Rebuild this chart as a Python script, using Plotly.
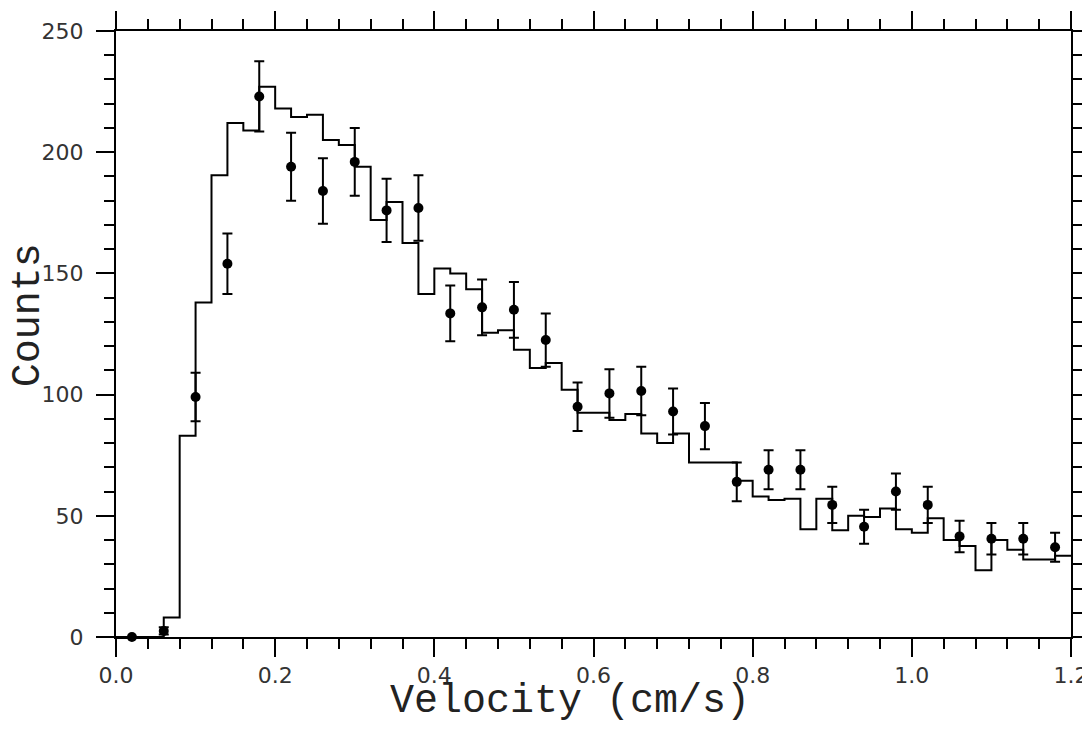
import plotly.graph_objects as go

# Histogram (model) : bin left edges and counts, bin width 0.02
bin_edges = [round(0.02 * i, 2) for i in range(61)]
hist_counts = [0, 0, 0, 8, 83, 138, 190.5, 212, 209, 227,
               218, 214.5, 215.5, 205, 203, 194, 172, 179.5, 162.5, 141.5,
               152, 150, 143.5, 125.5, 126.5, 118.5, 111, 113, 102, 92.5,
               92.5, 89.5, 92, 84, 80, 84, 72, 72, 72, 64.5,
               58, 56.5, 57, 44.5, 57, 44, 50, 49.5, 53, 44.5,
               43, 49, 40, 37.5, 27.5, 40, 36, 32, 32, 33.5]

# Measured data points
data_v = [0.02, 0.06, 0.10, 0.14, 0.18, 0.22, 0.26, 0.30, 0.34, 0.38,
          0.42, 0.46, 0.50, 0.54, 0.58, 0.62, 0.66, 0.70, 0.74, 0.78,
          0.82, 0.86, 0.90, 0.94, 0.98, 1.02, 1.06, 1.10, 1.14, 1.18]
data_counts = [0, 2.5, 99, 154, 223, 194, 184, 196, 176, 177,
               133.5, 136, 135, 122.5, 95, 100.5, 101.5, 93, 87, 64,
               69, 69, 54.5, 45.5, 60, 54.5, 41.5, 40.5, 40.5, 37]
data_err = [0, 1.5, 10, 12.5, 14.5, 14, 13.5, 14, 13, 13.5,
            11.5, 11.5, 11.5, 11, 10, 10, 10, 9.5, 9.5, 8,
            8, 8, 7.5, 7, 7.5, 7.5, 6.5, 6.5, 6.5, 6]

x_ticks = [0.0, 0.2, 0.4, 0.6, 0.8, 1.0, 1.2]
x_ticklabels = ["0.0", "0.2", "0.4", "0.6", "0.8", "1.0", "1.2"]
y_ticks = [0, 50, 100, 150, 200, 250]
y_ticklabels = ["0", "50", "100", "150", "200", "250"]

x_title = "Velocity (cm/s)"
y_title = "Counts"

step_y = hist_counts + [hist_counts[-1]]

fig = go.Figure()
fig.add_trace(go.Scatter(
    x=bin_edges, y=step_y, mode="lines",
    line=dict(shape="hv", color="black", width=2),
    showlegend=False, hoverinfo="skip", cliponaxis=False))
fig.add_trace(go.Scatter(
    x=data_v, y=data_counts, mode="markers",
    marker=dict(color="black", size=10, symbol="circle"),
    error_y=dict(type="data", array=data_err, visible=True,
                 color="black", thickness=2, width=5),
    showlegend=False, cliponaxis=False))

axis_common = dict(
    showline=True, linecolor="black", linewidth=2, automargin=False,
    mirror="allticks", ticks="outside", ticklen=18, tickwidth=2,
    tickcolor="black", showgrid=False, zeroline=False,
    tickfont=dict(family="DejaVu Sans", size=22, color="#333"),
)

fig.update_xaxes(
    range=[0, 1.2], tickmode="array", tickvals=x_ticks, ticktext=x_ticklabels,
    minor=dict(dtick=0.04, ticks="outside", ticklen=10, tickwidth=2,
               tickcolor="black", showgrid=False),
    **axis_common)
fig.update_yaxes(
    range=[0, 250], tickmode="array", tickvals=y_ticks, ticktext=y_ticklabels,
    minor=dict(dtick=10, ticks="outside", ticklen=10, tickwidth=2,
               tickcolor="black", showgrid=False),
    ticklabelstandoff=8,
    **axis_common)

title_font = dict(family="Liberation Mono", size=40, color="#222")
fig.add_annotation(text=x_title, xref="paper", yref="paper",
                   x=0.475, y=-0.107, xanchor="center", yanchor="middle",
                   showarrow=False, font=title_font)
fig.add_annotation(text=y_title, xref="paper", yref="paper",
                   x=-0.0921, y=0.531, xanchor="center", yanchor="middle",
                   textangle=-90, showarrow=False, font=title_font)

# page body adds an 8px offset; figure size and margins compensate for it
fig.update_layout(
    width=1082, height=718,
    margin=dict(l=108, r=19, t=23, b=89),
    paper_bgcolor="white", plot_bgcolor="white",
)

fig.write_html("out.html")
